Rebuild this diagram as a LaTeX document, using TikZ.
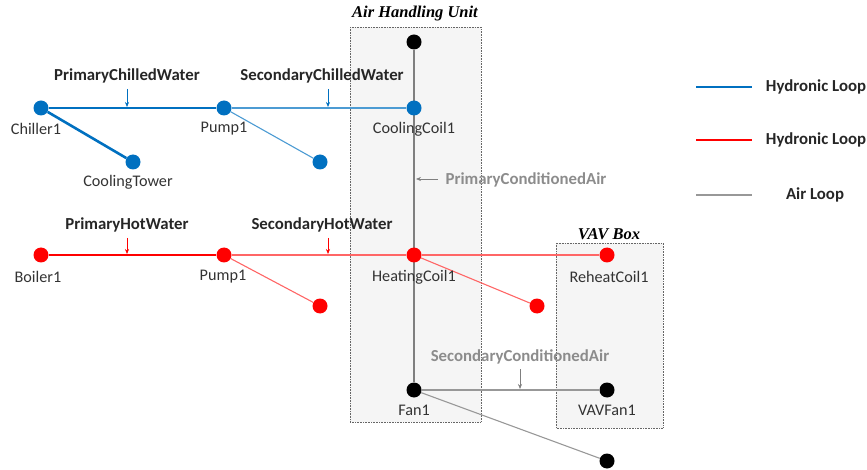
\documentclass[tikz,border=0pt]{standalone}
\usepackage{fontspec}
\setmainfont{Carlito}
\newfontfamily\titlefont{Liberation Serif}
\usetikzlibrary{arrows.meta}
\definecolor{hblue}{HTML}{0070C0}
\definecolor{hred}{HTML}{FF0000}
\definecolor{agray}{HTML}{7F7F7F}
\tikzset{
  dot/.style={circle,inner sep=0pt,minimum size=15pt,fill=#1},
  lbl/.style={font=\fontsize{16.2}{18}\selectfont,text=black!80},
  loopname/.style={font=\bfseries\fontsize{16.8}{19}\selectfont,text=black!85},
  airname/.style={font=\bfseries\fontsize{16.8}{19}\selectfont,text=agray!90},
  ttl/.style={font=\titlefont\bfseries\itshape\fontsize{16.5}{18}\selectfont},
  box/.style={draw=black!60,densely dotted,fill=black!4,line width=0.6pt},
  thickblue/.style={hblue,line width=2.6pt},
  thinblue/.style={hblue!70,line width=1.1pt},
  thickred/.style={hred,line width=2.6pt},
  thinred/.style={hred!60,line width=1.1pt},
  thickair/.style={agray,line width=2.6pt},
  thinair/.style={agray!80,line width=1.1pt},
  tag/.style={-{Stealth[length=5pt,width=4pt]},line width=0.6pt},
}
\begin{document}
\begin{tikzpicture}[x=1pt,y=-1pt]
\useasboundingbox (0,0) rectangle (867,470);
% boxes
\draw[box] (350,27) rectangle (481,422);
\draw[box] (556,243) rectangle (663,428);
\node[ttl] (ahut) at (415,14) {Air Handling Unit};
\node[ttl] (vavt) at (609,234) {VAV Box};
% nodes
\node[dot=black] (ahutop) at (414,42) {};
\node[dot=black] (fan) at (414,390) {};
\node[dot=black] (vavfan) at (607,390) {};
\node[dot=black] (airend) at (607,461) {};
\draw[thickair] (ahutop) -- (fan);
\draw[thinair] (fan) -- (vavfan);
\draw[thinair] (fan) -- (airend);
\node[dot=hblue] (chiller) at (41,108) {};
\node[dot=hblue] (cpump) at (224,108) {};
\node[dot=hblue] (ccoil) at (414,108) {};
\node[dot=hblue] (tower) at (133,162) {};
\node[dot=hblue] (cend) at (320,162) {};
\node[dot=hred] (boiler) at (41,255) {};
\node[dot=hred] (hpump) at (224,255) {};
\node[dot=hred] (hcoil) at (414,255) {};
\node[dot=hred] (reheat) at (607,255) {};
\node[dot=hred] (hend1) at (320,306) {};
\node[dot=hred] (hend2) at (537,306) {};
\draw[thickblue] (chiller) -- (cpump);
\draw[thickblue] (chiller) -- (tower);
\draw[thinblue] (cpump) -- (ccoil);
\draw[thinblue] (cpump) -- (cend);
\draw[thickred] (boiler) -- (hpump);
\draw[thinred] (hpump) -- (hcoil);
\draw[thinred] (hcoil) -- (reheat);
\draw[thinred] (hpump) -- (hend1);
\draw[thinred] (hcoil) -- (hend2);
% labels
\node[lbl] (l1) at (36,129) {Chiller1};
\node[lbl] (l2) at (224,129) {Pump1};
\node[lbl] (l3) at (414,129) {CoolingCoil1};
\node[lbl] (l4) at (128,182) {CoolingTower};
\node[lbl] (l5) at (38,277) {Boiler1};
\node[lbl] (l6) at (223,277) {Pump1};
\node[lbl] (l7) at (414,277) {HeatingCoil1};
\node[lbl] (l8) at (609,277) {ReheatCoil1};
\node[lbl] (l9) at (414,410) {Fan1};
\node[lbl] (l10) at (607,410) {VAVFan1};
% loop labels with arrows
\node[loopname] (pcw) at (127,76) {PrimaryChilledWater};
\coordinate (pcwa) at (127,89); \coordinate (pcwb) at (127,107);
\draw[tag,hblue] (pcwa) -- (pcwb);
\node[loopname] (scw) at (322,76) {SecondaryChilledWater};
\coordinate (scwa) at (328,89); \coordinate (scwb) at (328,107);
\draw[tag,hblue] (scwa) -- (scwb);
\node[loopname] (phw) at (127,225) {PrimaryHotWater};
\coordinate (phwa) at (127,238); \coordinate (phwb) at (127,254);
\draw[tag,hred] (phwa) -- (phwb);
\node[loopname] (shw) at (322,225) {SecondaryHotWater};
\coordinate (shwa) at (328,238); \coordinate (shwb) at (328,254);
\draw[tag,hred] (shwa) -- (shwb);
\node[airname] (pca) at (526,180) {PrimaryConditionedAir};
\coordinate (pcaa) at (438,179); \coordinate (pcab) at (416,179);
\draw[tag,agray] (pcaa) -- (pcab);
\node[airname] (sca) at (520,357) {SecondaryConditionedAir};
\coordinate (scaa) at (520,369); \coordinate (scab) at (520,389);
\draw[tag,agray] (scaa) -- (scab);
% legend
\coordinate (lg1a) at (696,87); \coordinate (lg1b) at (752,87);
\coordinate (lg2a) at (696,140); \coordinate (lg2b) at (752,140);
\coordinate (lg3a) at (696,195); \coordinate (lg3b) at (752,195);
\draw[hblue,line width=1.8pt] (lg1a) -- (lg1b);
\draw[hred,line width=1.8pt] (lg2a) -- (lg2b);
\draw[agray!80,line width=1.8pt] (lg3a) -- (lg3b);
\node[loopname] (lgt1) at (816,87) {Hydronic Loop};
\node[loopname] (lgt2) at (816,140) {Hydronic Loop};
\node[loopname] (lgt3) at (815,195) {Air Loop};
\end{tikzpicture}
\end{document}
